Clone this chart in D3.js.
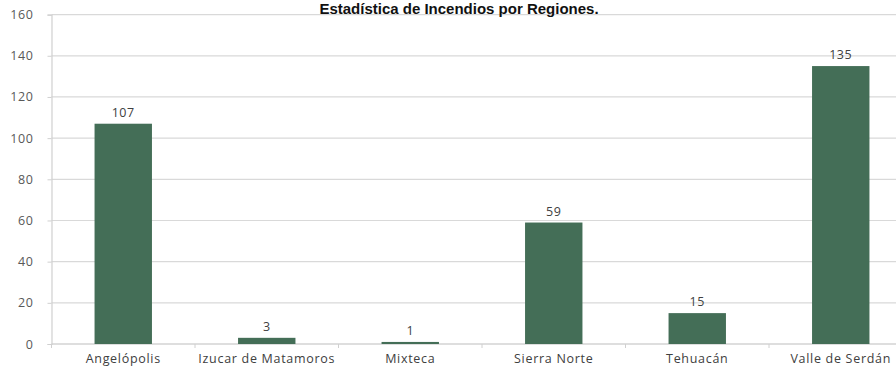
<!DOCTYPE html>
<html><head><meta charset="utf-8">
<script src="https://cdn.jsdelivr.net/npm/d3@7"></script>
<style>body{margin:0;background:#fff;}svg{display:block;}</style>
</head><body>
<svg id="c" width="896" height="369"></svg>
<script>
const categories = ["Angelópolis","Izucar de Matamoros","Mixteca","Sierra Norte","Tehuacán","Valle de Serdán"];
const values = [107,3,1,59,15,135];
const yTicks = [0,20,40,60,80,100,120,140,160];
const title = "Estadística de Incendios por Regiones.";

const svg = d3.select("#c");
const x0 = 51.5, x1 = 912.5, yTop = 14.6, yBot = 344;
const x = d3.scaleBand().domain(categories).range([x0,x1]).paddingInner(0.6).paddingOuter(0.3);
const y = d3.scaleLinear().domain([0,160]).range([yBot,yTop]);
const FONT = "'Open Sans', sans-serif";

// gridlines
svg.append("g").selectAll("line").data(yTicks).join("line")
  .attr("x1",x0).attr("x2",x1).attr("y1",d=>y(d)).attr("y2",d=>y(d))
  .attr("stroke","#d9d9d9").attr("stroke-width",1.2);

// y axis
const ya = svg.append("g").attr("transform",`translate(${x0},0)`)
  .call(d3.axisLeft(y).tickValues(yTicks).tickSize(4).tickPadding(14));
ya.select(".domain").attr("stroke","#d0d0d0").attr("stroke-width",1.2);
ya.selectAll(".tick line").attr("stroke","#d0d0d0");
ya.selectAll("text").attr("font-family",FONT).attr("font-size",12.5)
  .attr("letter-spacing","0.6px").attr("fill","#595959");

// x axis with boundary ticks
const xa = svg.append("g").attr("transform",`translate(0,${yBot})`);
xa.append("line").attr("x1",x0).attr("x2",x1).attr("stroke","#d0d0d0").attr("stroke-width",1.2);
const n = categories.length;
xa.selectAll("line.tk").data(d3.range(n+1)).join("line").attr("class","tk")
  .attr("x1",i=>x0+(x1-x0)/n*i).attr("x2",i=>x0+(x1-x0)/n*i)
  .attr("y1",0).attr("y2",4).attr("stroke","#d0d0d0");
xa.selectAll("text").data(categories).join("text")
  .attr("x",d=>x(d)+x.bandwidth()/2).attr("y",19)
  .attr("text-anchor","middle").attr("font-family",FONT).attr("font-size",12.5)
  .attr("letter-spacing","0.7px").attr("fill","#404040").text(d=>d);

// bars
svg.append("g").selectAll("rect").data(values).join("rect")
  .attr("x",(d,i)=>x(categories[i])).attr("width",x.bandwidth())
  .attr("y",d=>y(d)).attr("height",d=>yBot-y(d)).attr("fill","#446e57");

// value labels
svg.append("g").selectAll("text").data(values).join("text")
  .attr("x",(d,i)=>x(categories[i])+x.bandwidth()/2).attr("y",d=>y(d)-7)
  .attr("text-anchor","middle").attr("font-family",FONT).attr("font-size",12.5)
  .attr("letter-spacing","0.6px").attr("fill","#404040").text(d=>d);

// title
svg.append("text").attr("x",459).attr("y",14).attr("text-anchor","middle")
  .attr("font-family","'Liberation Sans', Arial, sans-serif").attr("font-weight","bold").attr("font-size",15)
  .attr("fill","#111").text(title);
</script>
</body></html>
